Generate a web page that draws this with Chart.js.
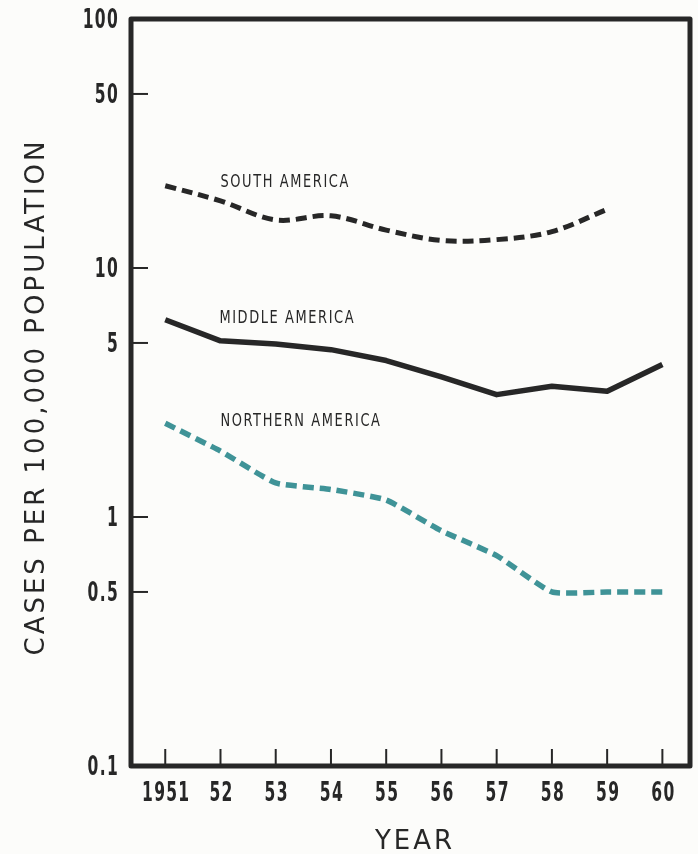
<!DOCTYPE html>
<html>
<head>
<meta charset="utf-8">
<script src="https://cdn.jsdelivr.net/npm/chart.js@4.4.1/dist/chart.umd.min.js"></script>
<style>
  body { margin: 0; background: #fcfcfa; }
  canvas { display: block; }
</style>
</head>
<body>
<canvas id="myChart" width="698" height="854"></canvas>
<script>
const years = [1951, 1952, 1953, 1954, 1955, 1956, 1957, 1958, 1959, 1960];
const yearLabels = ['1951', '52', '53', '54', '55', '56', '57', '58', '59', '60'];
const southAmerica = [21.4, 18.6, 15.6, 16.2, 14.2, 12.9, 13.0, 14.0, 17.2];
const middleAmerica = [6.2, 5.1, 4.95, 4.7, 4.25, 3.65, 3.1, 3.35, 3.2, 4.1];
const northernAmerica = [2.38, 1.84, 1.37, 1.29, 1.17, 0.88, 0.70, 0.5, 0.5, 0.5];
const yTicks = [0.1, 0.5, 1, 5, 10, 50, 100];
const yTickLabels = ['0.1', '0.5', '1', '5', '10', '50', '100'];
const seriesNames = ['SOUTH AMERICA', 'MIDDLE AMERICA', 'NORTHERN AMERICA'];

const ink = '#272727';
const teal = '#3f9397';
const condensed = "'DejaVu Sans Condensed', 'DejaVu Sans', sans-serif";

function points(vals) {
  return vals.map((v, i) => ({ x: years[i], y: v }));
}

// the printed font is very narrow, so squeeze the text sideways
function squeezed(ctx, text, x, y, align, sx) {
  ctx.save();
  ctx.translate(x, y);
  ctx.scale(sx, 1);
  ctx.textAlign = align;
  ctx.fillText(text, 0, 0);
  ctx.restore();
}

// frame, inward tick marks, tick labels, series names and axis titles
const decor = {
  id: 'decor',
  afterDatasetsDraw(chart) {
    const { ctx, chartArea: a, scales } = chart;
    const xs = scales.x, ys = scales.y;
    ctx.save();
    ctx.strokeStyle = ink;
    ctx.fillStyle = ink;
    ctx.lineWidth = 2;
    years.forEach(v => {
      const px = xs.getPixelForValue(v);
      ctx.beginPath();
      ctx.moveTo(px, a.bottom);
      ctx.lineTo(px, a.bottom - 17);
      ctx.stroke();
    });
    yTicks.slice(1, -1).forEach(v => {
      const py = ys.getPixelForValue(v);
      ctx.beginPath();
      ctx.moveTo(a.left, py);
      ctx.lineTo(a.left + 17, py);
      ctx.stroke();
    });
    ctx.lineWidth = 5;
    ctx.lineJoin = 'round';
    ctx.strokeRect(a.left, a.top, a.right - a.left, a.bottom - a.top);

    // tick labels
    ctx.font = 'bold 27px ' + condensed;
    ctx.letterSpacing = '2px';
    ctx.textBaseline = 'middle';
    years.forEach((v, i) => {
      squeezed(ctx, yearLabels[i], xs.getPixelForValue(v) + 1, a.bottom + 28, 'center', 0.64);
    });
    yTicks.forEach((v, i) => {
      squeezed(ctx, yTickLabels[i], a.left - 12, ys.getPixelForValue(v) + 2, 'right', 0.64);
    });

    // series names
    ctx.font = '18px ' + condensed;
    ctx.letterSpacing = '2px';
    const anchors = [[1952.0, 22.1], [1951.98, 6.3], [1952.0, 2.42]];
    seriesNames.forEach((name, i) => {
      squeezed(ctx, name, xs.getPixelForValue(anchors[i][0]), ys.getPixelForValue(anchors[i][1]), 'left', 0.8);
    });

    // axis titles
    ctx.font = '26px "DejaVu Sans", sans-serif';
    ctx.letterSpacing = '3px';
    ctx.textAlign = 'center';
    ctx.fillText('YEAR', 415, 842);
    ctx.translate(37, 397);
    ctx.rotate(-Math.PI / 2);
    ctx.fillText('CASES PER 100,000 POPULATION', 0, 0);
    ctx.restore();
  }
};

const ctx = document.getElementById('myChart').getContext('2d');
const myChart = new Chart(ctx, {
  type: 'line',
  data: {
    datasets: [{
      label: seriesNames[0],
      data: points(southAmerica),
      borderColor: ink,
      borderWidth: 5,
      borderDash: [11, 6],
      tension: 0.35
    }, {
      label: seriesNames[1],
      data: points(middleAmerica),
      borderColor: ink,
      borderWidth: 5.5,
      borderJoinStyle: 'round',
      tension: 0
    }, {
      label: seriesNames[2],
      data: points(northernAmerica),
      borderColor: teal,
      borderWidth: 5.5,
      borderDash: [11, 6],
      tension: 0.15
    }]
  },
  options: {
    responsive: false,
    animation: false,
    events: [],
    layout: { padding: { top: 19, right: 8, left: 0, bottom: 0 } },
    elements: { point: { radius: 0 } },
    plugins: { legend: { display: false }, tooltip: { enabled: false } },
    scales: {
      x: {
        type: 'linear',
        min: 1950.38,
        max: 1960.5,
        grid: { display: false, drawTicks: false },
        border: { display: false },
        ticks: { display: false },
        afterBuildTicks: s => { s.ticks = years.map(v => ({ value: v })); },
        afterFit: s => { s.height = 88; }
      },
      y: {
        type: 'logarithmic',
        min: 0.1,
        max: 100,
        grid: { display: false, drawTicks: false },
        border: { display: false },
        ticks: { display: false },
        afterBuildTicks: s => { s.ticks = yTicks.map(v => ({ value: v })); },
        afterFit: s => { s.width = 131; }
      }
    }
  },
  plugins: [decor]
});
</script>
</body>
</html>
